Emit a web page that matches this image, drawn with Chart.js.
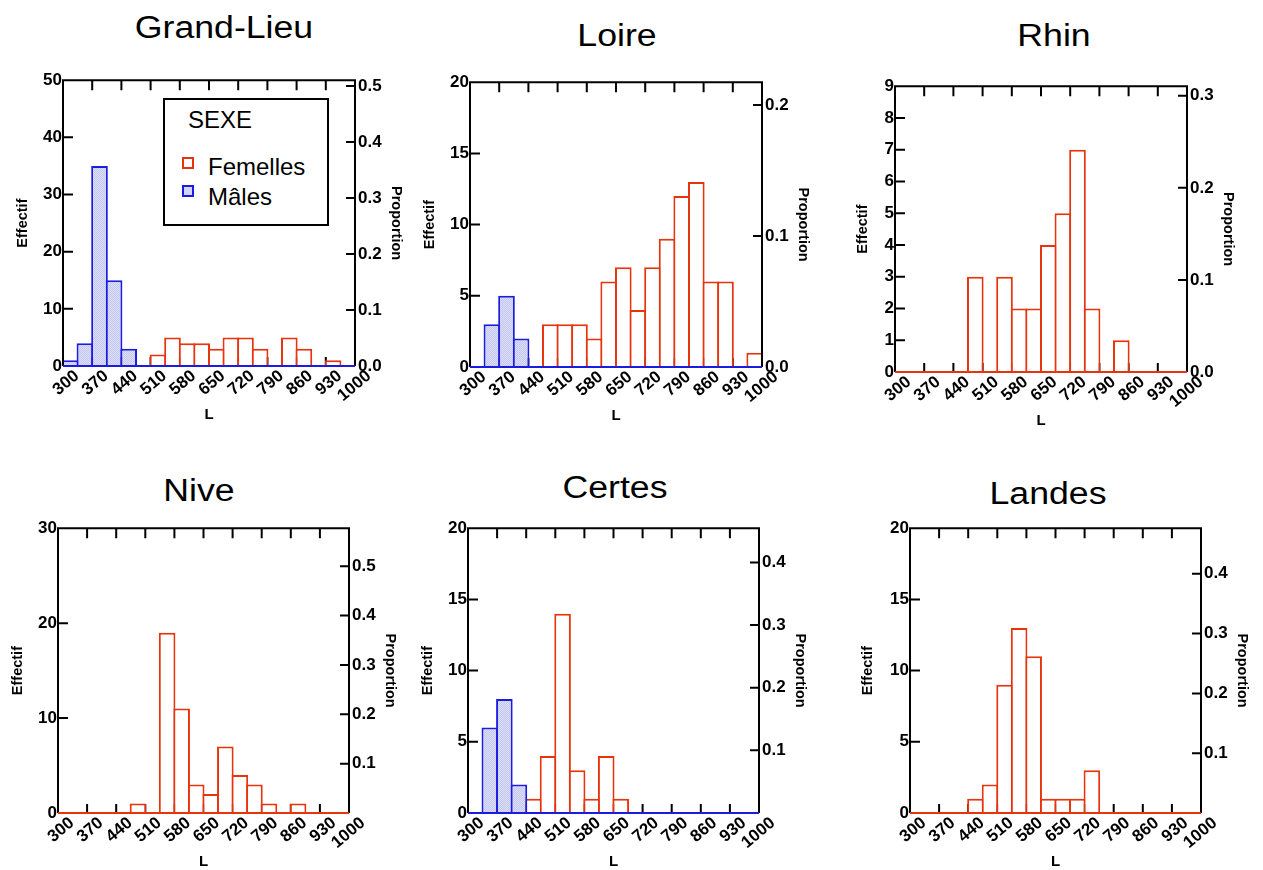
<!DOCTYPE html>
<html>
<head>
<meta charset="utf-8">
<script src="https://cdn.jsdelivr.net/npm/chart.js@4.4.0/dist/chart.umd.min.js"></script>
<style>
  body { margin: 0; background: #fff; width: 1263px; height: 870px; position: relative; overflow: hidden;
         font-family: 'Liberation Sans', Arial, sans-serif; color: #000; }
  canvas { position: absolute; }
  .ttl { position: absolute; font-size: 31px; transform: translate(-50%, -50%) scaleX(1.15); white-space: nowrap; }
  .leg { position: absolute; left: 163px; top: 98px; width: 162px; height: 124px; border: 2px solid #000; background: #fff; }
  .leg div { position: absolute; font-size: 24px; line-height: 24px; white-space: nowrap; }
  .leg .sw { width: 12px; height: 12px; box-sizing: border-box; border: 2px solid; }
</style>
</head>
<body>
<div class="leg">
  <div style="left:23px;top:8px">SEXE</div>
  <div class="sw" style="left:17px;top:57px;border-color:#e8340c;background:#fff"></div>
  <div style="left:43px;top:55px">Femelles</div>
  <div class="sw" style="left:17px;top:85px;border-color:#1c1ce0;background:#d3d5f4"></div>
  <div style="left:43px;top:85px">Mâles</div>
</div>
<script>
// classes de longueur L (début de chaque classe, largeur 35)
const binStarts = [300, 335, 370, 405, 440, 475, 510, 545, 580, 615,
                   650, 685, 720, 755, 790, 825, 860, 895, 930, 965];
const xTicks = [300, 370, 440, 510, 580, 650, 720, 790, 860, 930, 1000];

// effectifs par classe
const grandLieuF = [0, 0, 0, 0, 0, 0, 2, 5, 4, 4, 3, 5, 5, 3, 0, 5, 3, 0, 1, 0];
const grandLieuM = [1, 4, 35, 15, 3, 0, 0, 0, 0, 0, 0, 0, 0, 0, 0, 0, 0, 0, 0, 0];
const loireF     = [0, 0, 0, 0, 0, 3, 3, 3, 2, 6, 7, 4, 7, 9, 12, 13, 6, 6, 0, 1];
const loireM     = [0, 3, 5, 2, 0, 0, 0, 0, 0, 0, 0, 0, 0, 0, 0, 0, 0, 0, 0, 0];
const rhinF      = [0, 0, 0, 0, 0, 3, 0, 3, 2, 2, 4, 5, 7, 2, 0, 1, 0, 0, 0, 0];
const niveF      = [0, 0, 0, 0, 0, 1, 0, 19, 11, 3, 2, 7, 4, 3, 1, 0, 1, 0, 0, 0];
const certesF    = [0, 0, 0, 0, 1, 4, 14, 3, 1, 4, 1, 0, 0, 0, 0, 0, 0, 0, 0, 0];
const certesM    = [0, 6, 8, 2, 0, 0, 0, 0, 0, 0, 0, 0, 0, 0, 0, 0, 0, 0, 0, 0];
const landesF    = [0, 0, 0, 0, 1, 2, 9, 13, 11, 1, 1, 1, 3, 0, 0, 0, 0, 0, 0, 0];

const RED = '#e8340c';
const BLUE = '#1c1ce0';
const WL = 50, WR = 55, PT = 8, HB = 60;

Chart.defaults.font.family = "'Liberation Sans', Arial, sans-serif";
Chart.defaults.color = '#000';

// l, r, t, b = zone de tracé
const panels = [
  { name: 'Grand-Lieu', f: grandLieuF, m: grandLieuM, yMax: 50, yStep: 10, zero: true,
    l: 63, r: 355, t: 75, b: 366, tx: 224, ty: 28, eff: 40 },
  { name: 'Loire', f: loireF, m: loireM, yMax: 20, yStep: 5, zero: true,
    l: 470, r: 762, t: 77, b: 367, tx: 617, ty: 36, eff: 40 },
  { name: 'Rhin', f: rhinF, m: null, yMax: 9, yStep: 1, zero: true,
    l: 895, r: 1187, t: 81, b: 372, tx: 1054, ty: 36, eff: 32 },
  { name: 'Nive', f: niveF, m: null, yMax: 30, yStep: 10, zero: false,
    l: 58, r: 349, t: 523, b: 813, tx: 199, ty: 491, eff: 40 },
  { name: 'Certes', f: certesF, m: certesM, yMax: 20, yStep: 5, zero: false,
    l: 468, r: 759, t: 523, b: 813, tx: 615, ty: 488, eff: 40 },
  { name: 'Landes', f: landesF, m: null, yMax: 20, yStep: 5, zero: false,
    l: 910, r: 1201, t: 523, b: 813, tx: 1048, ty: 494, eff: 42 }
];

const frame = {
  id: 'frame',
  beforeDatasetsDraw(chart) {
    const { ctx, chartArea: a, scales } = chart;
    ctx.save();
    ctx.strokeStyle = '#000'; ctx.lineWidth = 2;
    ctx.beginPath();
    scales.x.ticks.forEach(t => {
      if (t.value <= 300 || t.value >= 1000) return;
      const x = scales.x.getPixelForValue(t.value);
      ctx.moveTo(x, a.bottom); ctx.lineTo(x, a.bottom - 9);
    });
    ctx.stroke();
    ctx.restore();
  },
  afterDatasetsDraw(chart, args, opts) {
    const { ctx, chartArea: a, scales } = chart;
    ctx.save();
    ctx.lineWidth = 2; ctx.strokeStyle = '#000';
    ctx.beginPath();
    ctx.moveTo(a.left, a.bottom); ctx.lineTo(a.left, a.top);
    ctx.lineTo(a.right, a.top); ctx.lineTo(a.right, a.bottom);
    scales.x.ticks.forEach(t => {
      if (t.value <= 300 || t.value >= 1000) return;
      const x = scales.x.getPixelForValue(t.value);
      ctx.moveTo(x, a.top); ctx.lineTo(x, a.top + 10);
    });
    scales.y.ticks.forEach(t => {
      if (t.value === 0) return;
      const y = scales.y.getPixelForValue(t.value);
      ctx.moveTo(a.left, y); ctx.lineTo(a.left + 10, y);
    });
    scales.y2.ticks.forEach(t => {
      if (t.value === 0) return;
      const y = scales.y2.getPixelForValue(t.value);
      ctx.moveTo(a.right, y); ctx.lineTo(a.right - 9, y);
    });
    ctx.stroke();
    ctx.strokeStyle = opts.base;
    ctx.beginPath();
    ctx.moveTo(a.left, a.bottom); ctx.lineTo(a.right, a.bottom);
    ctx.stroke();
    ctx.restore();
  }
};

function toXY(arr) {
  return arr.map((v, i) => ({ x: binStarts[i] + 17.5, y: v }));
}

panels.forEach(p => {
  const ttl = document.createElement('div');
  ttl.className = 'ttl';
  ttl.textContent = p.name;
  ttl.style.left = p.tx + 'px';
  ttl.style.top = p.ty + 'px';
  document.body.appendChild(ttl);

  const cv = document.createElement('canvas');
  cv.width = WL + (p.r - p.l) + WR;
  cv.height = PT + (p.b - p.t) + HB;
  cv.style.left = (p.l - WL) + 'px';
  cv.style.top = (p.t - PT) + 'px';
  document.body.appendChild(cv);
  const ctx = cv.getContext('2d');

  const pc = document.createElement('canvas');
  pc.width = 2; pc.height = 2;
  const g = pc.getContext('2d');
  g.fillStyle = '#dcdef7'; g.fillRect(0, 0, 2, 2);
  g.fillStyle = '#c4c7ee'; g.fillRect(0, 0, 1, 1); g.fillRect(1, 1, 1, 1);
  const hatch = ctx.createPattern(pc, 'repeat');

  const total = p.f.reduce((s, v) => s + v, 0) + (p.m ? p.m.reduce((s, v) => s + v, 0) : 0);

  const barStyle = { borderWidth: 2, borderSkipped: 'start', grouped: false,
                     barPercentage: 1.14, categoryPercentage: 1 };
  const datasets = [];
  if (p.m) datasets.push(Object.assign({ label: 'Mâles', data: toXY(p.m),
                     borderColor: BLUE, backgroundColor: hatch }, barStyle));
  datasets.push(Object.assign({ label: 'Femelles', data: toXY(p.f),
                     borderColor: RED, backgroundColor: '#fff' }, barStyle));

  const tickFont = { size: 17, weight: 'bold' };
  const titleFont = { size: 14.5, weight: 'bold' };

  new Chart(ctx, {
    type: 'bar',
    data: { datasets },
    plugins: [frame],
    options: {
      responsive: false,
      animation: false,
      layout: { padding: { top: PT, left: 0, right: 0, bottom: 0 } },
      plugins: {
        legend: { display: false },
        tooltip: { enabled: false },
        frame: { base: p.m ? BLUE : RED }
      },
      scales: {
        x: {
          type: 'linear', min: 300, max: 1000, offset: false,
          afterBuildTicks: s => { s.ticks = xTicks.map(v => ({ value: v })); },
          ticks: { autoSkip: false, minRotation: 40, maxRotation: 40, padding: 0, labelOffset: 14,
                   font: tickFont, callback: v => String(v) },
          grid: { display: false, drawTicks: false },
          border: { display: false },
          title: { display: true, text: 'L', font: { size: 15, weight: 'bold' }, padding: { top: 0, bottom: 2 } },
          afterFit: s => { s.height = HB; }
        },
        y: {
          position: 'left', min: 0, max: p.yMax,
          ticks: { stepSize: p.yStep, padding: 1, font: tickFont },
          grid: { display: false, drawTicks: false },
          border: { display: false },
          title: { display: true, text: 'Effectif', font: titleFont, padding: { top: WL - p.eff - 8.7 } },
          afterFit: s => { s.width = WL; }
        },
        y2: {
          position: 'right', min: 0, max: p.yMax / total,
          ticks: { stepSize: 0.1, includeBounds: false, padding: 3, font: tickFont,
                   callback: v => (v === 0 && !p.zero) ? '' : v.toFixed(1) },
          grid: { display: false, drawTicks: false },
          border: { display: false },
          title: { display: true, text: 'Proportion', font: titleFont, padding: { top: WR - 41 - 8.7 } },
          afterFit: s => { s.width = WR; }
        }
      }
    }
  });
});
</script>
</body>
</html>
